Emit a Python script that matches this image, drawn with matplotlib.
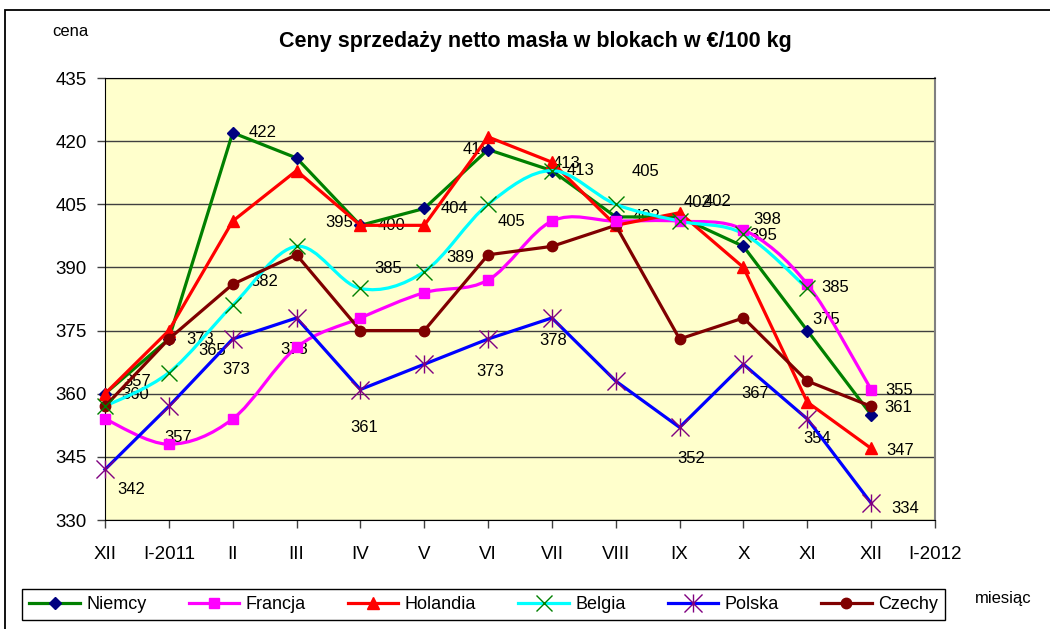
import numpy as np
import matplotlib
matplotlib.use("Agg")
import matplotlib.pyplot as plt
from matplotlib.path import Path
from matplotlib.patches import PathPatch, Rectangle
from matplotlib.lines import Line2D

plt.rcParams["font.family"] = ["Liberation Sans", "DejaVu Sans"]

# ── Data ───────────────────────────────────────────────────────────────────
months = ["XII", "I-2011", "II", "III", "IV", "V", "VI", "VII",
          "VIII", "IX", "X", "XI", "XII", "I-2012"]

niemcy   = [360, 373, 422, 416, 400, 404, 418, 413, 402, 402, 395, 375, 355]
francja  = [354, 348, 354, 371, 378, 384, 387, 401, 401, 401, 399, 386, 361]
holandia = [360, 375, 401, 413, 400, 400, 421, 415, 400, 403, 390, 358, 347]
belgia   = [357, 365, 381, 395, 385, 389, 405, 413, 405, 401, 398, 385, np.nan]
polska   = [342, 357, 373, 378, 361, 367, 373, 378, 363, 352, 367, 354, 334]
czechy   = [357, 373, 386, 393, 375, 375, 393, 395, 400, 373, 378, 363, 357]

series = {
    "Niemcy": niemcy, "Francja": francja, "Holandia": holandia,
    "Belgia": belgia, "Polska": polska, "Czechy": czechy,
}

# data labels: series, month index, text, shift in px (right, down)
labels = [
    ("Niemcy", 0, "360", 30, 1), ("Belgia", 0, "357", 32, -25),
    ("Polska", 0, "342", 26, 20),
    ("Niemcy", 1, "373", 31, 1), ("Belgia", 1, "365", 43, -22),
    ("Polska", 1, "357", 9, 31),
    ("Niemcy", 2, "422", 30, 0), ("Belgia", 2, "382", 32, -24),
    ("Polska", 2, "373", 3, 31),
    ("Polska", 3, "378", -2, 32),
    ("Niemcy", 4, "395", -21, -3), ("Holandia", 4, "400", 31, 0),
    ("Belgia", 4, "385", 28, -20), ("Polska", 4, "361", 4, 38),
    ("Niemcy", 5, "404", 30, 0), ("Belgia", 5, "389", 36, -14),
    ("Niemcy", 6, "418", -12, 0), ("Belgia", 6, "405", 23, 17),
    ("Polska", 6, "373", 2, 33),
    ("Holandia", 7, "413", 15, 1), ("Niemcy", 7, "413", 29, 0),
    ("Polska", 7, "378", 1, 23),
    ("Belgia", 8, "405", 30, -33), ("Niemcy", 8, "402", 31, 0),
    ("Holandia", 9, "402", 18, -10), ("Niemcy", 9, "402", 38, -15),
    ("Polska", 9, "352", 12, 31),
    ("Francja", 10, "398", 24, -10), ("Niemcy", 10, "395", 20, -11),
    ("Polska", 10, "367", 12, 29),
    ("Belgia", 11, "385", 28, -1), ("Niemcy", 11, "375", 19, -11),
    ("Polska", 11, "354", 10, 20),
    ("Niemcy", 12, "355", 28, -24), ("Francja", 12, "361", 27, 18),
    ("Holandia", 12, "347", 29, 2), ("Polska", 12, "334", 34, 5),
]

# Excel "star" marker: an X with a vertical stroke
star = Path([(0, -1), (0, 1), (-1, -1), (1, 1), (-1, 1), (1, -1)],
            [Path.MOVETO, Path.LINETO] * 3)

styles = {
    "Niemcy":   dict(color="#008000", marker="D", mfc="#000080", mec="#000080", ms=6.5),
    "Francja":  dict(color="#FF00FF", marker="s", mfc="#FF00FF", mec="#FF00FF", ms=7),
    "Holandia": dict(color="#FF0000", marker="^", mfc="#FF0000", mec="#FF0000", ms=9),
    "Belgia":   dict(color="#00FFFF", marker="x", mfc="#008000", mec="#008000", ms=12, mew=1),
    "Polska":   dict(color="#0000FF", marker=star, mfc="#800080", mec="#800080", ms=13, mew=1),
    "Czechy":   dict(color="#800000", marker="o", mfc="#800000", mec="#800000", ms=7.5),
}
smoothed = {"Francja", "Belgia"}


def smooth_path(x, y):
    """Excel-like smoothed line: Catmull-Rom converted to cubic Beziers."""
    pts = np.column_stack([x, y])
    verts, codes = [pts[0]], [Path.MOVETO]
    n = len(pts)
    for i in range(n - 1):
        p0 = pts[i - 1] if i > 0 else pts[i]
        p1, p2 = pts[i], pts[i + 1]
        p3 = pts[i + 2] if i + 2 < n else pts[i + 1]
        verts += [p1 + (p2 - p0) / 6, p2 - (p3 - p1) / 6, p2]
        codes += [Path.CURVE4] * 3
    return Path(verts, codes)


fig = plt.figure(figsize=(10.5, 6.29), dpi=100)
ax = fig.add_axes([105 / 1050, 1 - 520 / 629, 830 / 1050, 442 / 629])
ax.set_facecolor("#FFFFCC")

x = np.arange(len(months) - 1)
handles = []
for name, vals in series.items():
    st = dict(styles[name])
    col = st.pop("color")
    v = np.array(vals, dtype=float)
    ok = ~np.isnan(v)
    if name in smoothed:
        ax.add_patch(PathPatch(smooth_path(x[ok], v[ok]), fill=False,
                               edgecolor=col, lw=2.3, zorder=3))
        ax.plot(x[ok], v[ok], ls="none", zorder=4, clip_on=False, **st)
    else:
        ax.plot(x[ok], v[ok], color=col, lw=2.3, zorder=3, clip_on=False,
                solid_joinstyle="miter", **st)
    handles.append(Line2D([], [], color=col, lw=2.3, label=name, **st))

for name, i, txt, dx, dy in labels:
    ax.annotate(txt, (x[i], series[name][i]), xytext=(dx, -dy),
                textcoords="offset pixels", ha="center", va="center",
                fontsize=12, zorder=2)

ax.set_xlim(0, len(months) - 1)
ax.set_ylim(330, 435)
ax.set_yticks(np.arange(330, 436, 15))
ax.set_xticks(np.arange(len(months)))
ax.set_xticklabels(months)
ax.tick_params(axis="both", labelsize=13.5, length=6, width=1, color="#404040")
ax.tick_params(axis="x", pad=13)
ax.tick_params(axis="y", pad=7)
ax.yaxis.grid(True, color="#404040", lw=1)
ax.set_axisbelow(True)
for s in ["left", "bottom", "top"]:
    ax.spines[s].set_color("black")
ax.spines["right"].set_color("#808080")
ax.spines["right"].set_linewidth(1.5)

fig.text(70 / 1050, 1 - 32 / 629, "cena", fontsize=12, ha="center", va="center")
fig.text(1003 / 1050, 1 - 598 / 629, "miesiąc", fontsize=12, ha="center", va="center")
fig.text(535 / 1050, 1 - 42 / 629, "Ceny sprzedaży netto masła w blokach w €/100 kg",
         fontsize=15.5, fontweight="bold", ha="center", va="center")

leg = fig.legend(handles=handles, ncol=6, mode="expand", fontsize=13,
                 bbox_to_anchor=(22 / 1050, 1 - 622 / 629, 923 / 1050, 35 / 629),
                 loc="center", borderaxespad=0, handlelength=2.8,
                 handletextpad=0.35, fancybox=False, framealpha=1)
leg.get_frame().set_edgecolor("black")
leg.get_frame().set_linewidth(1)

fig.add_artist(Rectangle((5 / 1050, -0.2), 1.2, 1.2 - 10 / 629,
                         transform=fig.transFigure, fill=False,
                         edgecolor="black", lw=1.3))

fig.savefig("out.png", dpi=100)
